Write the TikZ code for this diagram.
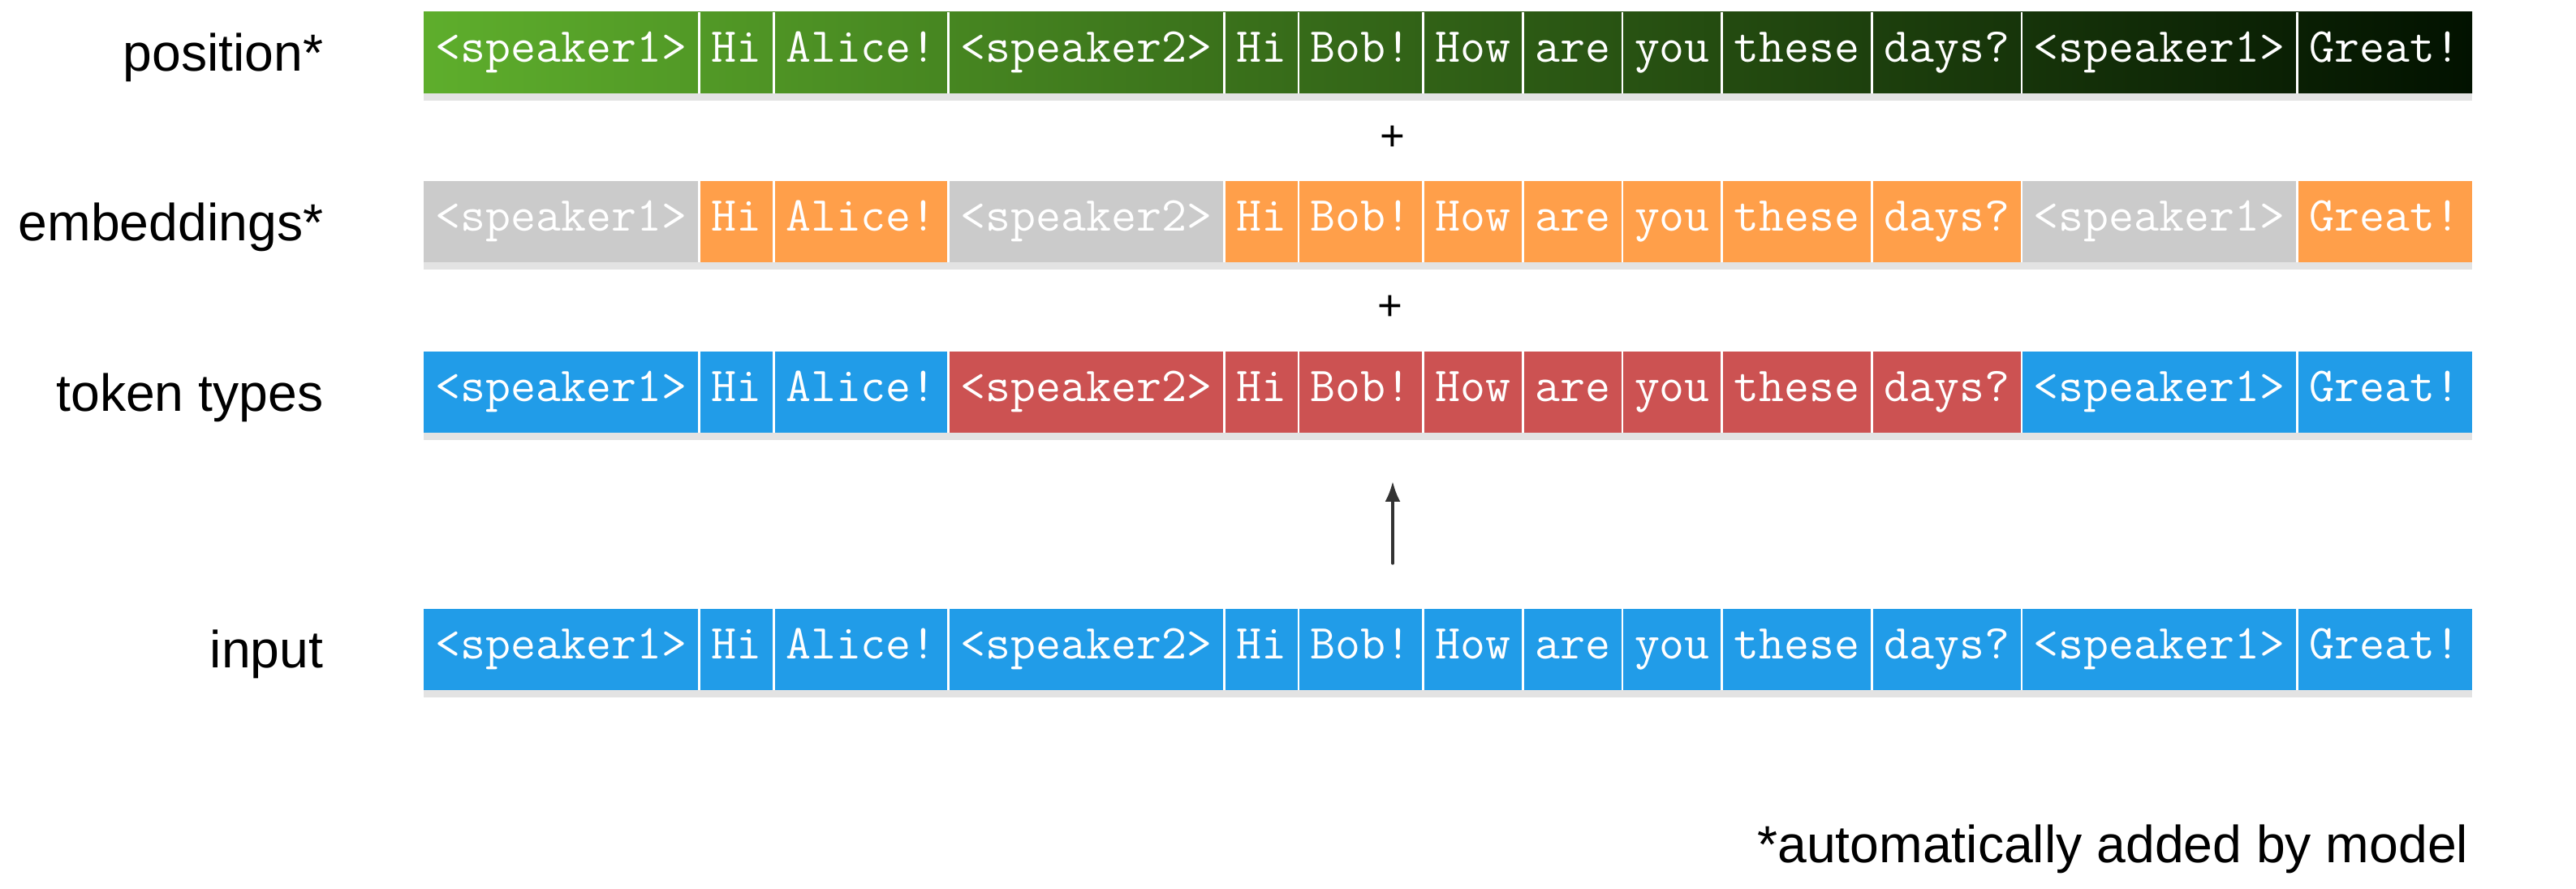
\documentclass[tikz,border=0pt]{standalone}
\usepackage{fontspec}
\setmainfont{Liberation Sans}
\usetikzlibrary{positioning,backgrounds,shadows,arrows.meta}

\definecolor{tokblue}{RGB}{33,156,232}
\definecolor{tokred}{RGB}{204,82,82}
\definecolor{tokorange}{RGB}{255,159,74}
\definecolor{tokgray}{RGB}{203,203,203}
\definecolor{posleft}{RGB}{94,174,44}
\definecolor{posright}{RGB}{2,18,0}
\definecolor{arrowgray}{RGB}{51,51,51}

\tikzset{
  tok/.style={minimum height=1cm, inner xsep=4.25pt, inner ysep=0pt, outer sep=0pt,
    text height=8.4pt, text depth=1.8pt, text=white,
    font=\ttfamily\fontsize{17.1}{18}\selectfont},
  rowstart/.style={inner sep=0pt, outer sep=0pt, minimum size=0pt},
  rowlabel/.style={anchor=base east, inner sep=0pt, font=\fontsize{18.3}{22}\selectfont},
  plus/.style={inner sep=0pt, font=\fontsize{15}{18}\selectfont},
  divider/.style={white, line width=0.8pt},
  barshadow/.style={drop shadow={shadow xshift=0pt, shadow yshift=-0.9mm, opacity=0.22}},
}

\begin{document}
\begin{tikzpicture}
\useasboundingbox (0,0) rectangle (31.74,10.95);

% labels on the left
\node[rowlabel] (lpos) at (3.99,10.07) {position*};
\node[rowlabel] (lemb) at (3.99,7.98) {embeddings*};
\node[rowlabel] (ltyp) at (3.99,5.88) {token types};
\node[rowlabel] (linp) at (3.99,2.72) {input};

% position row
\node[rowstart] (pos0) at (5.22,10.30) {};
\foreach \t [count=\i, remember=\i as \j (initially 0)] in
  {<speaker1>,Hi,Alice!,<speaker2>,Hi,Bob!,How,are,you,these,days?,<speaker1>,Great!}
  \node[tok, right=0pt of pos\j] (pos\i) {\t};

% embeddings row
\node[rowstart] (emb0) at (5.22,8.22) {};
\foreach \t/\c [count=\i, remember=\i as \j (initially 0)] in
  {<speaker1>/tokgray,Hi/tokorange,Alice!/tokorange,<speaker2>/tokgray,Hi/tokorange,
   Bob!/tokorange,How/tokorange,are/tokorange,you/tokorange,these/tokorange,
   days?/tokorange,<speaker1>/tokgray,Great!/tokorange}
  \node[tok, fill=\c, right=0pt of emb\j] (emb\i) {\t};

% token types row
\node[rowstart] (typ0) at (5.22,6.12) {};
\foreach \t/\c [count=\i, remember=\i as \j (initially 0)] in
  {<speaker1>/tokblue,Hi/tokblue,Alice!/tokblue,<speaker2>/tokred,Hi/tokred,
   Bob!/tokred,How/tokred,are/tokred,you/tokred,these/tokred,
   days?/tokred,<speaker1>/tokblue,Great!/tokblue}
  \node[tok, fill=\c, right=0pt of typ\j] (typ\i) {\t};

% input row
\node[rowstart] (inp0) at (5.22,2.95) {};
\foreach \t [count=\i, remember=\i as \j (initially 0)] in
  {<speaker1>,Hi,Alice!,<speaker2>,Hi,Bob!,How,are,you,these,days?,<speaker1>,Great!}
  \node[tok, fill=tokblue, right=0pt of inp\j] (inp\i) {\t};

\begin{scope}[on background layer]
  \path[barshadow, left color=posleft, right color=posright] (pos1.south west) rectangle (pos13.north east);
  \path[barshadow, fill=white] (emb1.south west) rectangle (emb13.north east);
  \path[barshadow, fill=white] (typ1.south west) rectangle (typ13.north east);
  \path[barshadow, fill=white] (inp1.south west) rectangle (inp13.north east);
\end{scope}

\foreach \r in {pos,emb,typ,inp}
  \foreach \i in {1,...,12}
    \draw[divider] (\r\i.north east) -- (\r\i.south east);

\node[plus] (plus1) at (17.16,9.25) {+};
\node[plus] (plus2) at (17.13,7.16) {+};

\coordinate (arrtail) at (17.16,4.01);
\coordinate (arrhead) at (17.16,5.02);
\draw[-{Latex[length=2.5mm,width=1.9mm]}, arrowgray, line width=0.95pt, line cap=round] (arrtail) -- (arrhead);

\node[anchor=base east, inner sep=0pt, font=\fontsize{18.3}{22}\selectfont] (note) at (30.42,0.32) {*automatically added by model};
\end{tikzpicture}
\end{document}
